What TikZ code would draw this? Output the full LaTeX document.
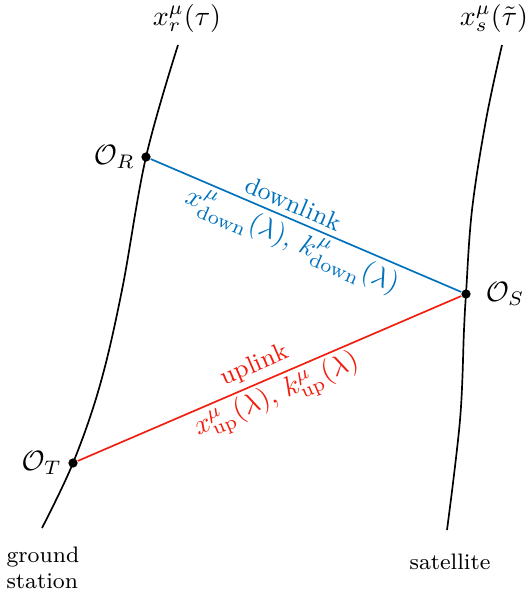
\documentclass[tikz,border=0pt]{standalone}
\usepackage{amsmath}
\definecolor{dlblue}{RGB}{0,114,189}
\definecolor{ulred}{RGB}{240,30,15}
\begin{document}
\begin{tikzpicture}[x=0.357pt,y=-0.357pt,
  world/.style={line width=0.6pt},
  event/.style={circle,fill=black,inner sep=0pt,minimum size=3.3pt},
  link/.style={line width=0.6pt},
  lbl/.style={inner sep=1pt}]
\useasboundingbox (0,0) rectangle (530,597);
% world lines
\draw[world] plot[smooth,tension=0.6] coordinates {(42,528) (73,463) (100,385) (122,290) (146,157) (178,45)};
\draw[world] plot[smooth,tension=0.6] coordinates {(447,530) (460,420) (464,330) (466,294) (472,210) (486,120) (502,45)};
% events
\node[event] (R) at (146,157) {};
\node[event] (S) at (466,294) {};
\node[event] (T) at (73,463) {};
\node[lbl,anchor=east,xshift=-1pt] (lR) at (R.west) {$\mathcal{O}_R$};
\node[lbl,anchor=west,xshift=4pt] (lS) at (S.east) {$\mathcal{O}_S$};
\node[lbl,anchor=east,xshift=-1pt] (lT) at (T.west) {$\mathcal{O}_T$};
% links
\draw[link,dlblue] (R) -- node[pos=0.44,sloped,above,inner sep=2pt,font=\small]{downlink}
   node[pos=0.48,sloped,below,inner sep=1.5pt]{$x^\mu_{\mathrm{down}}(\lambda),\,k^\mu_{\mathrm{down}}(\lambda)$} (S);
\draw[link,ulred] (T) -- node[pos=0.48,sloped,above,inner sep=2pt,font=\small]{uplink}
   node[pos=0.5,sloped,below,inner sep=1pt]{$x^\mu_{\mathrm{up}}(\lambda),\,k^\mu_{\mathrm{up}}(\lambda)$} (S);
% top labels
\node (wr) at (187,18) {$x^\mu_r(\tau)$};
\node (ws) at (494,18) {$x^\mu_s(\tilde\tau)$};
% bottom labels
\node[anchor=west,align=left,font=\footnotesize,inner sep=0pt] (gs) at (6,568) {ground\\station};
\node[font=\footnotesize,inner sep=0pt] (sat) at (450,562) {satellite};
\end{tikzpicture}
\end{document}
